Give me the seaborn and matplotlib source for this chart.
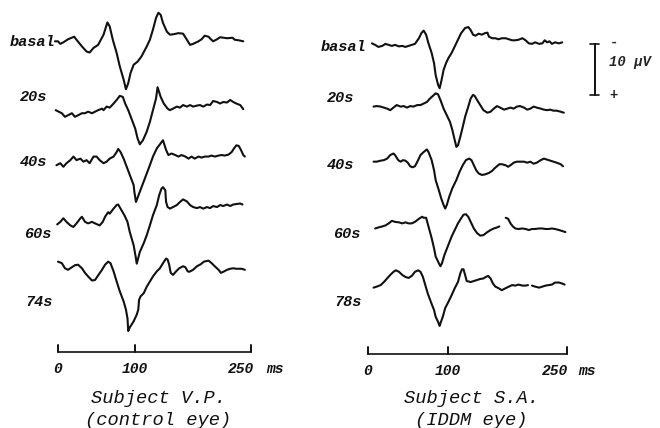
import numpy as np
import pandas as pd
import seaborn as sns
import matplotlib.pyplot as plt

sns.set_theme(style="white")
plt.rcParams['font.family'] = ['Liberation Mono', 'DejaVu Sans']

nan = np.nan

# latency (ms) and amplitude (uV, positive = down)

# Subject V.P. (control eye)
vp_basal_t = [-4, 0, 3, 7, 13, 21, 24, 31, 37, 41, 46, 52, 59, 64, 67, 71, 76, 80, 85, 88,
              91, 94, 98, 103, 108, 115, 119, 123, 127, 130, 133, 136, 141, 145, 150, 156,
              162, 167, 171, 175, 182, 186, 190, 195, 198, 201, 206, 210, 219, 226, 229, 234, 240]
vp_basal_uv = [0.1, 0.1, 0.6, 0.3, -0.3, -0.8, -0.2, 1.1, 2.1, 2.3, 1.4, 0.8, -1.2, -3.6, -2.8,
               -0.2, 2.4, 5.0, 7.6, 9.5, 8.3, 6.3, 4.7, 4.1, 3.1, 1.1, -0.2, -2.2, -4.5, -5.5,
               -5.1, -3.5, -1.8, -1.2, -1.3, -1.5, -1.4, -0.2, 0.8, 0.6, 0.1, -0.3, -1.0, -0.8,
               -0.3, 0.1, -0.3, -0.7, -0.5, -0.6, -0.2, -0.1, 0.1]

vp_20s_t = [-3, 5, 9, 13, 18, 22, 26, 31, 35, 39, 44, 48, 52, 57, 59, 63, 67, 72, 76, 80,
            84, 87, 91, 95, 100, 103, 106, 110, 115, 119, 123, 127, 129, 133, 137, 142, 145,
            149, 154, 158, 162, 167, 171, 175, 180, 184, 188, 193, 197, 201, 206, 210, 214,
            219, 223, 227, 231, 236, 240]
vp_20s_uv = [0.6, 1.2, 1.9, 1.6, 1.2, 1.9, 1.6, 1.2, 1.2, 0.9, 1.2, 0.9, 0.6, 0.3, 0.6, -0.1,
             0.1, -0.7, -1.4, -2.2, -2.0, -0.7, 0.6, 2.2, 4.2, 6.1, 7.3, 6.5, 4.8, 2.9, 0.6,
             -1.7, -3.9, -2.0, -0.7, 0.3, 0.6, 0.3, -0.1, 0.1, -0.4, -0.1, -0.4, -0.1, -0.3,
             -0.4, -0.1, -0.5, -0.4, -1.2, -1.0, -0.7, -1.0, -0.9, -1.4, -1.0, -0.7, -0.4, 0.4]

vp_40s_t = [-2, 3, 7, 11, 16, 20, 24, 29, 33, 37, 41, 46, 50, 54, 59, 63, 67, 72, 76, 78,
            81, 85, 89, 93, 98, 99, 101, 106, 111, 115, 119, 123, 128, 136, 140, 143, 147,
            152, 156, 160, 165, 169, 173, 177, 182, 186, 190, 195, 199, 203, 208, 212, 216,
            221, 225, 228, 231, 234, 237, 240, 242]
vp_40s_uv = [1.4, 1.0, 1.7, 1.0, 0.4, -0.3, 0.4, 0.1, 0.7, 0.4, 1.0, -0.3, -0.3, 0.4, 1.0,
             0.7, 0.1, -0.3, -1.2, -1.8, -1.2, 0.1, 1.7, 3.3, 5.3, 6.7, 8.6, 6.6, 4.6, 3.0,
             1.4, -0.3, -1.9, -3.5, -1.6, -0.6, -0.9, -0.6, -0.3, -0.6, -0.3, 0.1, -0.3, 0.1,
             -0.3, -0.1, -0.3, -0.3, -0.5, -0.3, -0.5, -0.6, -0.5, -0.7, -1.2, -1.9, -2.5,
             -2.4, -1.6, -0.6, -0.3]

vp_60s_t = [-1, 3, 7, 11, 16, 20, 24, 29, 31, 35, 39, 44, 48, 54, 58, 61, 65, 67, 72, 76,
            78, 81, 86, 90, 93, 98, 101, 102, 106, 111, 115, 119, 123, 128, 131, 134, 136,
            139, 140, 142, 145, 149, 154, 158, 162, 167, 171, 175, 180, 184, 188, 193, 197,
            201, 206, 210, 214, 219, 223, 227, 236, 239]
vp_60s_uv = [1.8, 1.3, 0.6, 1.3, 2.0, 2.3, 1.6, 0.6, 0.3, 1.3, 1.6, 1.3, 1.6, 2.0, 1.3, 0.3,
             -0.6, -0.3, -1.3, -2.0, -2.1, -1.3, 0.0, 1.3, 3.3, 5.9, 8.5, 9.5, 7.2, 5.5, 3.9,
             2.0, 0.0, -2.0, -3.9, -5.2, -5.5, -4.9, -2.6, -1.6, -1.3, -1.6, -2.0, -2.6, -3.1,
             -2.7, -2.0, -1.6, -1.4, -1.6, -1.3, -1.6, -1.4, -1.8, -1.6, -2.0, -1.8, -2.1,
             -1.8, -2.1, -2.3, -2.1]

vp_74s_t = [0, 5, 9, 13, 18, 22, 26, 31, 35, 39, 44, 48, 52, 57, 61, 65, 68, 72, 76, 80,
            85, 88, 90, 91, 93, 98, 102, 104, 105, 107, 111, 115, 119, 123, 128, 132, 136,
            140, 142, 144, 146, 149, 153, 157, 162, 165, 168, 170, 175, 180, 185, 189, 195,
            199, 203, 208, 211, 214, 219, 223, 227, 231, 238, 242]
vp_74s_uv = [-1.2, -0.9, 0.1, 0.4, -0.1, -0.5, -0.6, 0.1, 1.0, 1.7, 2.5, 2.4, 1.5, 0.4, -0.6,
             -1.2, -0.9, 0.7, 2.7, 4.6, 6.6, 8.2, 9.9, 12.4, 11.7, 10.5, 9.2, 8.2, 6.3, 5.6,
             5.0, 3.7, 2.7, 1.7, 0.7, 0.1, -0.9, -1.8, -1.6, -0.6, 1.0, 1.4, 0.7, 0.1, -0.3,
             -0.1, 0.7, 0.8, 0.4, -0.3, -0.7, -1.2, -1.4, -0.9, -0.3, 0.4, 1.0, 0.8, 0.4, 0.2,
             0.1, 0.2, 0.2, 0.4]

# Subject S.A. (IDDM eye)
sa_basal_t = [5, 9, 13, 18, 22, 26, 30, 34, 39, 43, 47, 51, 55, 59, 64, 67, 70, 73, 76, 80,
              83, 85, 88, 90, 92, 95, 98, 101, 105, 109, 113, 117, 122, 126, 129, 132, 135,
              139, 143, 147, 150, 152, 156, 160, 164, 168, 173, 177, 181, 185, 189, 194, 198,
              202, 206, 210, 215, 219, 222, 225, 228, 231, 235, 240, 244]
sa_basal_uv = [0.1, 0.4, 0.8, 0.6, 0.2, 0.4, 0.6, 0.4, 0.7, 0.6, 0.8, 0.6, 0.4, 0.2, -0.9,
               -1.9, -2.4, -1.6, 0.1, 2.0, 4.0, 6.3, 8.2, 8.9, 7.6, 5.3, 4.0, 3.0, 2.0, 0.7,
               -0.6, -1.9, -2.9, -3.1, -2.5, -1.6, -1.4, -1.8, -1.6, -1.9, -2.0, -1.2, -0.9,
               -0.9, -0.7, -0.9, -0.9, -0.7, -0.5, -0.5, -0.6, -0.9, -0.5, 0.1, 0.2, -0.1, 0.2,
               0.1, -0.5, -0.1, -0.3, 0.2, -0.1, 0.1, -0.1]

sa_20s_t = [7, 11, 16, 20, 24, 28, 32, 36, 41, 45, 49, 53, 57, 62, 66, 70, 74, 78, 83, 85,
            88, 91, 95, 99, 103, 106, 109, 111, 113, 116, 119, 122, 126, 129, 132, 134, 137,
            141, 145, 150, 154, 158, 162, 166, 171, 175, 179, 183, 187, 191, 196, 200, 204,
            208, 212, 217, 221, 225, 229, 233, 237, 242, 246]
sa_20s_uv = [-0.1, -0.2, -0.1, 0.1, 0.3, 0.6, 0.1, -0.4, -0.1, -0.2, 0.1, -0.2, -0.1, -0.4,
             -0.4, -0.7, -1.0, -1.7, -2.4, -2.7, -2.5, -1.4, 0.3, 1.6, 2.9, 4.5, 6.5, 7.8, 7.5,
             5.8, 3.9, 1.9, -0.1, -1.7, -2.4, -2.2, -1.4, -0.4, 0.6, 1.1, 0.9, 0.3, -0.2, 0.1,
             0.5, 0.3, 0.1, 0.3, -0.1, -0.2, 0.1, 0.5, 0.3, -0.1, 0.1, 0.3, 0.5, 0.6, 0.5, 0.7,
             0.7, 0.9, 1.1]

sa_40s_t = [7, 11, 16, 20, 24, 28, 32, 34, 38, 41, 44, 47, 50, 53, 56, 59, 63, 66, 70, 74,
            76, 80, 83, 85, 89, 92, 95, 97, 99, 102, 106, 111, 115, 119, 123, 127, 130, 133,
            136, 139, 143, 147, 152, 156, 159, 162, 165, 168, 173, 176, 179, 183, 187, 191,
            196, 200, 204, 208, 212, 217, 221, 225, 229, 233, 237, 242, 245]
sa_40s_uv = [-0.1, -0.1, -0.3, -0.4, -0.7, -1.4, -1.7, -1.4, -0.4, -0.1, -0.4, -0.3, 0.1, 0.8,
             1.0, 0.8, -0.4, -1.4, -2.0, -2.5, -2.0, -0.4, 1.6, 3.5, 5.5, 7.1, 8.4, 9.1, 8.4,
             6.8, 5.1, 3.5, 1.9, 0.6, -0.4, -0.7, -0.4, 0.6, 1.6, 2.2, 2.5, 2.4, 2.1, 1.7, 1.2,
             0.8, 0.4, 0.4, 0.6, 0.9, 0.6, 0.1, -0.1, -0.1, -0.1, 0.1, -0.1, 0.3, 0.1, -0.4,
             -0.7, -0.5, -0.3, -0.1, 0.1, 0.4, 0.8]

sa_60s_t = [9, 13, 18, 22, 26, 30, 34, 39, 43, 47, 51, 55, 59, 64, 68, 70, 73, 76, 80, 83,
            85, 89, 91, 93, 96, 101, 105, 109, 113, 117, 120, 123, 126, 129, 133, 137, 141,
            145, 150, 154, 158, 162, 165, nan, 173, 176, 179, 182, 185, 189, 194, 198, 202,
            206, 210, 215, 219, 223, 227, 231, 235, 240, 244, 248]
sa_60s_uv = [0.5, 0.3, 0.1, -0.1, -0.5, -1.0, -0.8, -0.7, -0.5, -0.7, -0.5, -0.5, -0.8, -1.4,
             -1.8, -1.6, -1.6, 0.1, 2.4, 4.4, 6.0, 7.3, 7.9, 7.3, 5.7, 3.7, 2.1, 0.8, -0.5,
             -1.5, -2.2, -2.3, -1.8, -0.8, 0.5, 1.4, 1.9, 1.8, 1.2, 0.8, 0.5, 0.3, 0.1, nan,
             -1.6, -1.4, -0.5, 0.1, 0.5, 0.6, 0.5, 0.6, 0.8, 0.6, 0.6, 0.5, 0.5, 0.6, 0.6, 0.5,
             0.6, 0.8, 1.0, 1.2]

sa_78s_t = [7, 11, 16, 20, 24, 28, 32, 35, 39, 43, 47, 51, 55, 59, 63, 66, 69, 72, 75, 79,
            83, 85, 88, 90, 91, 94, 97, 101, 105, 109, 113, 116, 118, 120, 122, 124, 129, 133,
            137, 141, 145, 148, 151, 154, 157, 160, 164, 168, 173, 177, 181, 185, 189, 194,
            198, 201, nan, 206, 210, 215, 219, 223, 227, 231, 235, 240, 244, 247]
sa_78s_uv = [0.5, 0.3, 0.0, -0.6, -1.3, -2.0, -2.6, -2.9, -2.6, -2.0, -1.6, -1.4, -1.8, -2.6,
             -2.9, -2.6, -1.6, 0.0, 1.6, 3.3, 4.9, 6.2, 7.2, 8.0, 7.5, 6.2, 4.5, 3.3, 2.0, 0.6,
             -0.6, -2.3, -3.1, -3.1, -2.0, -0.8, -0.6, -0.8, -1.0, -1.2, -1.3, -1.6, -1.8,
             -1.3, -0.3, 0.3, 0.6, 1.0, 0.6, 0.3, 0.0, 0.1, -0.1, 0.1, 0.1, 0.0, nan, 0.1, 0.3,
             0.5, 0.3, 0.1, 0.0, -0.1, -0.5, -0.5, -0.3, -0.1]

vp_labels = ['basal', '20s', '40s', '60s', '74s']
sa_labels = ['basal', '20s', '40s', '60s', '78s']
time_ticks = [0, 100, 250]
scale_uv = 10

# layout (vertical stacking offsets, label anchors) in plot units
vp_offsets = [8.0, 21.0, 31.0, 42.2, 52.5]
sa_offsets = [8.4, 21.0, 31.8, 44.3, 55.9]
vp_label_xy = [(-62, 8.2), (-50, 19.0), (-50, 31.8), (-44, 45.9), (-43, 59.2)]
sa_label_xy = [(-59, 9.2), (-52, 19.2), (-52, 32.4), (-44, 45.9), (-42, 59.2)]


def trace_frame(traces, offsets):
    rows = []
    for k, ((t, v), off) in enumerate(zip(traces, offsets)):
        seg = 0
        for ti, vi in zip(t, v):
            if np.isnan(vi):
                seg += 1
                continue
            rows.append({'t': ti, 'y': vi + off, 'seg': f'{k}-{seg}'})
    return pd.DataFrame(rows)


def draw_panel(ax, traces, offsets, labels, label_xy, title, sub, xlim, axis_y, t250, tms):
    df = trace_frame(traces, offsets)
    sns.lineplot(data=df, x='t', y='y', units='seg', estimator=None, sort=False,
                 color='#111111', lw=1.5, ax=ax, legend=False)
    for lab, (x, y) in zip(labels, label_xy):
        ax.text(x, y, lab, fontsize=11, fontweight='bold', fontstyle='italic',
                ha='left', va='center', color='#111111')
    # time bracket
    ax.plot([time_ticks[0], time_ticks[-1]], [axis_y, axis_y], color='#111111', lw=1.2)
    for tk in time_ticks:
        ax.plot([tk, tk], [axis_y - 1.4, axis_y], color='#111111', lw=1.4)
    tick_x = [0, 100, t250]
    for tk, x in zip(time_ticks, tick_x):
        ax.text(x, axis_y + 3.3, str(tk), fontsize=10.5, fontweight='bold',
                fontstyle='italic', ha='center', va='center', color='#111111')
    ax.text(tms, axis_y + 3.3, 'ms', fontsize=10.5, fontweight='bold',
            fontstyle='italic', ha='center', va='center', color='#111111')
    ax.text(130, 78.2, title, fontsize=13.5, fontstyle='italic', ha='center',
            va='center', color='#111111')
    ax.text(130, 82.5, sub, fontsize=13.5, fontstyle='italic', ha='center',
            va='center', color='#111111')
    ax.set_xlim(*xlim)
    ax.set_ylim(83.92, 0)
    ax.axis('off')


fig = plt.figure(figsize=(6.6, 4.28), dpi=100)
ax_l = fig.add_axes([0, 0, 0.5, 1])
ax_r = fig.add_axes([0.5, 0, 0.5, 1])

vp_traces = [(vp_basal_t, vp_basal_uv), (vp_20s_t, vp_20s_uv), (vp_40s_t, vp_40s_uv),
             (vp_60s_t, vp_60s_uv), (vp_74s_t, vp_74s_uv)]
sa_traces = [(sa_basal_t, sa_basal_uv), (sa_20s_t, sa_20s_uv), (sa_40s_t, sa_40s_uv),
             (sa_60s_t, sa_60s_uv), (sa_78s_t, sa_78s_uv)]

draw_panel(ax_l, vp_traces, vp_offsets, vp_labels, vp_label_xy,
           'Subject V.P.', '(control eye)', (-75.1, 352.3), 69.0, 237, 281)
draw_panel(ax_r, sa_traces, sa_offsets, sa_labels, sa_label_xy,
           'Subject S.A.', '(IDDM eye)', (-47.7, 366.8), 69.4, 235, 275)

# 10 uV calibration bar (negative up)
bar_top = 8.6
ax_r.plot([285, 285], [bar_top, bar_top + scale_uv], color='#111111', lw=1.4)
ax_r.plot([279, 290], [bar_top, bar_top], color='#111111', lw=1.2)
ax_r.plot([279, 290], [bar_top + scale_uv, bar_top + scale_uv], color='#111111', lw=1.2)
ax_r.text(309, bar_top - 0.5, '-', fontsize=10, fontweight='bold', ha='center', va='center')
ax_r.text(303, bar_top + 3.6, '10 µV', fontsize=10, fontweight='bold',
          fontstyle='italic', ha='left', va='center')
ax_r.text(309, bar_top + scale_uv, '+', fontsize=10, fontweight='bold', ha='center', va='center')

fig.savefig('out.png', dpi=100, facecolor='white')
